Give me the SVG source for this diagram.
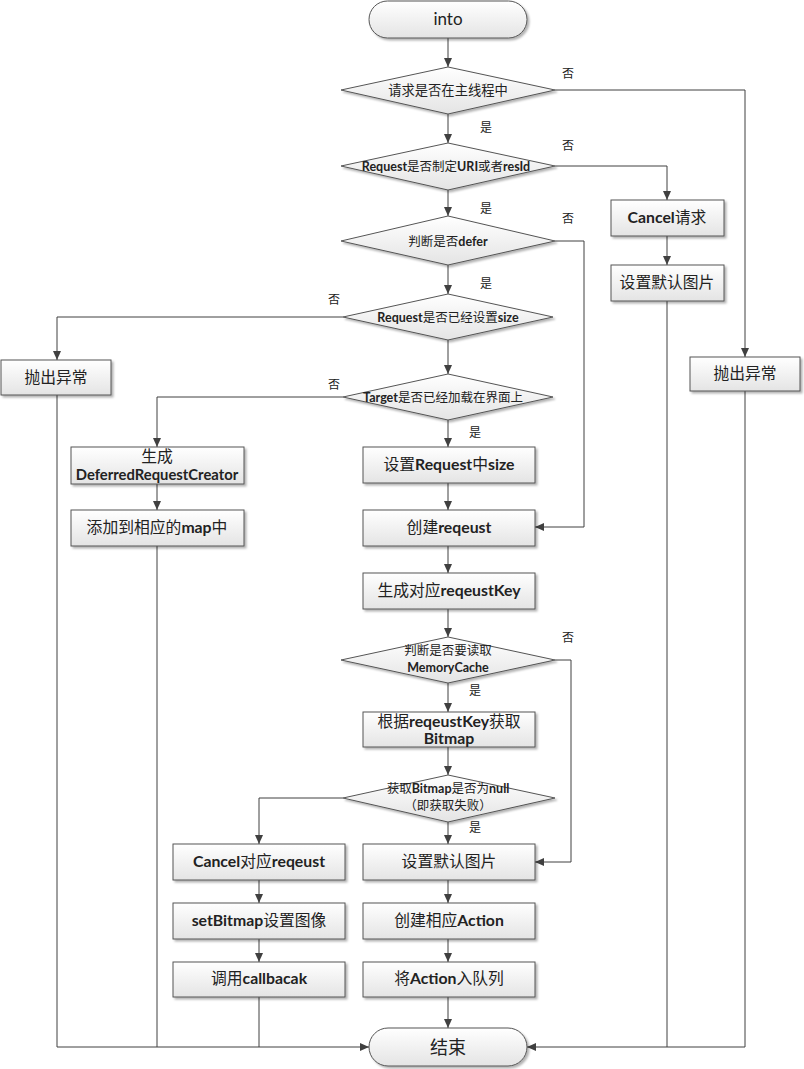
<svg xmlns="http://www.w3.org/2000/svg" width="804" height="1069" viewBox="0 0 804 1069">
<defs>
<linearGradient id="g" x1="0" y1="0" x2="0" y2="1"><stop offset="0" stop-color="#ffffff"/><stop offset="1" stop-color="#e4e4e4"/></linearGradient>
<filter id="sh" x="-10%" y="-20%" width="130%" height="160%"><feDropShadow dx="2" dy="2" stdDeviation="1.2" flood-color="#000" flood-opacity="0.3"/></filter>
<marker id="ar" markerWidth="10" markerHeight="10" refX="9" refY="4" orient="auto" markerUnits="userSpaceOnUse"><path d="M0,0 L9,4 L0,8 z" fill="#404040"/></marker>
<style>
.n{fill:url(#g);stroke:#555;stroke-width:1;filter:url(#sh)}
.c path{fill:none;stroke:#404040;stroke-width:1}
.a{marker-end:url(#ar)}
text{font-family:Lato,"Noto Sans CJK SC",sans-serif;fill:#222;text-anchor:middle}
.b{font-weight:bold}
.t{font-size:15.8px}
.d{font-size:12.5px}
.l{font-size:12px}
</style>
</defs>
<rect width="804" height="1069" fill="#fff"/>
<g class="c" id="connectors">
<path class="a" d="M448,38 V67"/>
<path class="a" d="M555,90 H745 V357"/>
<path class="a" d="M448,114 V143"/>
<path class="a" d="M555,166 H667 V200"/>
<path class="a" d="M667,236 V265"/>
<path d="M667,301 V1047"/>
<path class="a" d="M745,391 V1047 H527"/>
<path class="a" d="M448,190 V216"/>
<path class="a" d="M555,241 H584 V527 H535"/>
<path class="a" d="M448,265 V294"/>
<path class="a" d="M343,317 H57 V360"/>
<path class="a" d="M448,340 V374"/>
<path class="a" d="M343,397 H157 V447"/>
<path class="a" d="M448,420 V447"/>
<path class="a" d="M157,484 V510"/>
<path d="M157,546 V1047"/>
<path class="a" d="M57,395 V1047 H369"/>
<path class="a" d="M448,483 V510"/>
<path class="a" d="M448,546 V573"/>
<path class="a" d="M448,609 V637"/>
<path class="a" d="M555,660 H571 V862 H535"/>
<path class="a" d="M448,683 V712"/>
<path class="a" d="M448,747 V775"/>
<path class="a" d="M343,798 H259 V844"/>
<path class="a" d="M448,822 V844"/>
<path class="a" d="M259,880 V903"/>
<path class="a" d="M448,880 V903"/>
<path class="a" d="M259,939 V962"/>
<path class="a" d="M448,939 V962"/>
<path d="M259,997 V1047"/>
<path class="a" d="M448,997 V1028"/>
</g>
<g id="labels" class="l">
<text x="568" y="78">否</text>
<text x="486" y="132">是</text>
<text x="568" y="150">否</text>
<text x="486" y="213">是</text>
<text x="568" y="223">否</text>
<text x="486" y="288">是</text>
<text x="334" y="304">否</text>
<text x="334" y="389">否</text>
<text x="475" y="437">是</text>
<text x="568" y="642">否</text>
<text x="475" y="695">是</text>
<text x="475" y="832">是</text>
</g>
<g id="start"><rect class="n" x="369" y="1" width="158" height="37" rx="18.5"/><text x="448" y="25" style="font-size:17px">into</text></g>
<g id="d1"><polygon class="n" points="341,90 448,67 555,90 448,114"/><text class="d" x="448" y="95" style="font-size:13.3px">请求是否在主线程中</text></g>
<g id="d2"><polygon class="n" points="341,166 448,143 555,166 448,190"/><text class="d" x="446" y="171"><tspan class="b">Request</tspan>是否制定<tspan class="b">URI</tspan>或者<tspan class="b">resId</tspan></text></g>
<g id="d3"><polygon class="n" points="341,241 448,216 555,241 448,265"/><text class="d" x="448" y="246">判断是否<tspan class="b">defer</tspan></text></g>
<g id="d4"><polygon class="n" points="343,317 448,294 553,317 448,340"/><text class="d" x="448" y="322"><tspan class="b">Request</tspan>是否已经设置<tspan class="b">size</tspan></text></g>
<g id="d5"><polygon class="n" points="343,397 448,374 553,397 448,420"/><text class="d" x="443" y="402"><tspan class="b">Target</tspan>是否已经加载在界面上</text></g>
<g id="cancelReq"><rect class="n" x="611" y="200" width="113" height="36"/><text class="t" x="667" y="223"><tspan class="b">Cancel</tspan>请求</text></g>
<g id="defImg1"><rect class="n" x="611" y="265" width="113" height="36"/><text class="t" x="667" y="288">设置默认图片</text></g>
<g id="throwR"><rect class="n" x="690" y="357" width="110" height="34"/><text class="t" x="745" y="379">抛出异常</text></g>
<g id="throwL"><rect class="n" x="1" y="360" width="110" height="35"/><text class="t" x="56" y="383">抛出异常</text></g>
<g id="deferred"><rect class="n" x="71" y="447" width="173" height="37"/><text class="t" x="157" y="462">生成</text><text class="t b" x="157" y="480" style="font-size:14.8px">DeferredRequestCreator</text></g>
<g id="addMap"><rect class="n" x="71" y="510" width="173" height="36"/><text class="t" x="157" y="533">添加到相应的<tspan class="b">map</tspan>中</text></g>
<g id="setSize"><rect class="n" x="363" y="447" width="172" height="36"/><text class="t" x="449" y="470">设置<tspan class="b">Request</tspan>中<tspan class="b">size</tspan></text></g>
<g id="createReq"><rect class="n" x="363" y="510" width="172" height="36"/><text class="t" x="449" y="533">创建<tspan class="b">reqeust</tspan></text></g>
<g id="genKey"><rect class="n" x="363" y="573" width="172" height="36"/><text class="t" x="449" y="596">生成对应<tspan class="b">reqeustKey</tspan></text></g>
<g id="d6"><polygon class="n" points="341,660 448,637 555,660 448,683"/><text class="d" x="448" y="655">判断是否要读取</text><text class="d b" x="448" y="672">MemoryCache</text></g>
<g id="getBmp"><rect class="n" x="363" y="712" width="172" height="35"/><text class="t" x="449" y="727">根据<tspan class="b">reqeustKey</tspan>获取</text><text class="t b" x="449" y="744">Bitmap</text></g>
<g id="d7"><polygon class="n" points="343,798 448,775 555,798 448,822"/><text class="d" x="448" y="793">获取<tspan class="b">Bitmap</tspan>是否为<tspan class="b">null</tspan></text><text class="d" x="448" y="810">（即获取失败）</text></g>
<g id="cancelCorr"><rect class="n" x="173" y="844" width="172" height="36"/><text class="t" x="259" y="867"><tspan class="b">Cancel</tspan>对应<tspan class="b">reqeust</tspan></text></g>
<g id="defImg2"><rect class="n" x="363" y="844" width="172" height="36"/><text class="t" x="449" y="867">设置默认图片</text></g>
<g id="setBmp"><rect class="n" x="173" y="903" width="172" height="36"/><text class="t" x="259" y="926"><tspan class="b">setBitmap</tspan>设置图像</text></g>
<g id="createAction"><rect class="n" x="363" y="903" width="172" height="36"/><text class="t" x="449" y="926">创建相应<tspan class="b">Action</tspan></text></g>
<g id="callback"><rect class="n" x="173" y="962" width="172" height="35"/><text class="t" x="259" y="984">调用<tspan class="b">callbacak</tspan></text></g>
<g id="enqueue"><rect class="n" x="363" y="962" width="172" height="35"/><text class="t" x="449" y="984">将<tspan class="b">Action</tspan>入队列</text></g>
<g id="end"><rect class="n" x="369" y="1028" width="158" height="38" rx="19"/><text x="448" y="1054" style="font-size:18px">结束</text></g>
</svg>
